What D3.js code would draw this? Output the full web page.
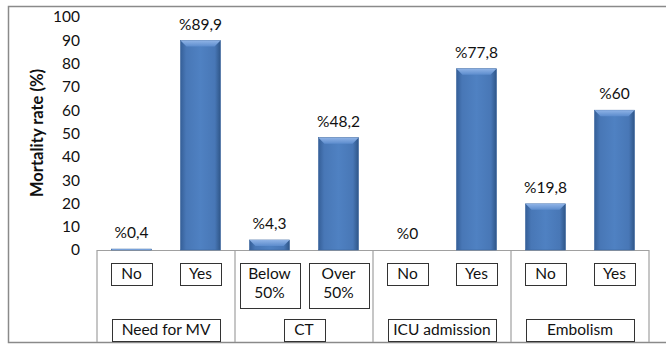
<!DOCTYPE html>
<html>
<head>
<meta charset="utf-8">
<script src="https://cdn.jsdelivr.net/npm/d3@7"></script>
<style>
  body { margin: 0; background: #fff; }
  text { font-family: Lato, "Open Sans", sans-serif; fill: #111; }
</style>
</head>
<body>
<div id="chart"></div>
<script>
// Chart data
const groups = ["Need for MV", "CT", "ICU admission", "Embolism"];
const subLabels = [["No", "Yes"], [["Below", "50%"], ["Over", "50%"]], ["No", "Yes"], ["No", "Yes"]];
const values = [[0.4, 89.9], [4.3, 48.2], [0, 77.8], [19.8, 60]];
const yTicks = [0, 10, 20, 30, 40, 50, 60, 70, 80, 90, 100];
const yTitle = "Mortality rate (%)";

const svgWidth = 666, svgHeight = 345;
const left = 97, right = 649, baseY = 250, topY = 17, bottomY = 342;

const svg = d3.select("#chart").append("svg")
    .attr("width", svgWidth)
    .attr("height", svgHeight);

// Gradients for the bevelled bars
const defs = svg.append("defs");
const body = defs.append("linearGradient").attr("id", "barBody");
[["0%", "#355f98"], ["14%", "#4877b6"], ["50%", "#4f81c2"], ["86%", "#4877b6"], ["100%", "#2f5688"]]
    .forEach(([o, c]) => body.append("stop").attr("offset", o).attr("stop-color", c));
const bevel = defs.append("linearGradient").attr("id", "barTop")
    .attr("x1", 0).attr("y1", 0).attr("x2", 0).attr("y2", 1);
[["0%", "#8fb3e6"], ["100%", "#5c8ccd"]]
    .forEach(([o, c]) => bevel.append("stop").attr("offset", o).attr("stop-color", c));

// Outer chart border
svg.append("rect")
    .attr("x", 8.5).attr("y", 6.5)
    .attr("width", 700).attr("height", 336)
    .attr("fill", "none").attr("stroke", "#8a8a8a").attr("stroke-width", 1.5);

// Flatten into one bar per sub-category
const bars = [];
groups.forEach((g, gi) => {
    values[gi].forEach((v, si) => {
        bars.push({ key: gi + "-" + si, group: g, gi: gi, label: subLabels[gi][si], value: v });
    });
});

const x = d3.scaleBand()
    .domain(bars.map(d => d.key))
    .range([left, right])
    .paddingInner(0.42)
    .paddingOuter(0.21);

const y = d3.scaleLinear()
    .domain([0, 100])
    .range([baseY, topY]);

// Y axis (labels only)
const yAxis = svg.append("g")
    .attr("transform", "translate(86,0)")
    .call(d3.axisLeft(y).tickValues(yTicks).tickSize(0).tickPadding(6));
yAxis.select(".domain").remove();
yAxis.selectAll("text")
    .style("font-family", "Lato, sans-serif")
    .style("font-size", "15.5px")
    .attr("fill", "#111");

svg.append("text")
    .attr("transform", "translate(43,133) rotate(-90)")
    .attr("text-anchor", "middle")
    .style("font-size", "16.5px")
    .style("font-weight", "bold")
    .text(yTitle);

// Category table
const step = x.step();
const table = svg.append("g").attr("stroke", "#a0a0a0").attr("stroke-width", 1.2);
table.append("line")
    .attr("x1", left).attr("x2", right).attr("y1", baseY + 0.5).attr("y2", baseY + 0.5);
d3.range(groups.length + 1).forEach(i => {
    const xx = left + i * step * 2;
    table.append("line")
        .attr("x1", xx).attr("x2", xx).attr("y1", baseY).attr("y2", bottomY);
});

// Bars
const barG = svg.selectAll(".bar")
    .data(bars)
    .enter().append("g")
    .attr("class", "bar");

barG.append("rect")
    .attr("x", d => x(d.key))
    .attr("y", d => y(d.value))
    .attr("width", x.bandwidth())
    .attr("height", d => baseY - y(d.value))
    .attr("fill", "url(#barBody)")
    .attr("stroke", "#3a659e")
    .attr("stroke-width", 0.6);

barG.filter(d => d.value > 0).append("path")
    .attr("d", d => {
        const x0 = x(d.key), x1 = x0 + x.bandwidth(), y0 = y(d.value);
        const h = Math.min(6, baseY - y0);
        return `M${x0},${y0}L${x1},${y0}L${x1 - h},${y0 + h}L${x0 + h},${y0 + h}Z`;
    })
    .attr("fill", "url(#barTop)");

// Value labels
svg.selectAll(".val")
    .data(bars)
    .enter().append("text")
    .attr("class", "val")
    .attr("x", d => x(d.key) + x.bandwidth() / 2)
    .attr("y", d => y(d.value) - 11)
    .attr("text-anchor", "middle")
    .style("font-size", "15.5px")
    .text(d => "%" + String(d.value).replace(".", ","));

// Boxed label helper
function boxedLabel(cx, top, lines, minW, longW) {
    const g = svg.append("g");
    const lineH = 19;
    const t = g.append("text")
        .attr("text-anchor", "middle")
        .style("font-size", "15.5px");
    lines.forEach((s, i) => {
        t.append("tspan").attr("x", cx).attr("y", top + 16 + i * lineH).text(s);
    });
    const tw = t.node().getBBox().width;
    const w = tw + 10 < minW ? minW : Math.max(longW, tw + 8);
    const h = lines.length === 1 ? 22 : 45;
    g.insert("rect", "text")
        .attr("x", Math.round(cx - w / 2) + 0.5).attr("y", top + 0.5)
        .attr("width", Math.round(w)).attr("height", h)
        .attr("fill", "#fff").attr("stroke", "#333").attr("stroke-width", 1);
}

bars.forEach(d => {
    const lines = Array.isArray(d.label) ? d.label : [d.label];
    boxedLabel(x(d.key) + x.bandwidth() / 2, 263, lines, 41, 60);
});

groups.forEach((g, gi) => {
    const cx = left + gi * step * 2 + step;
    boxedLabel(cx, 319, [g], 41, 108);
});
</script>
</body>
</html>
